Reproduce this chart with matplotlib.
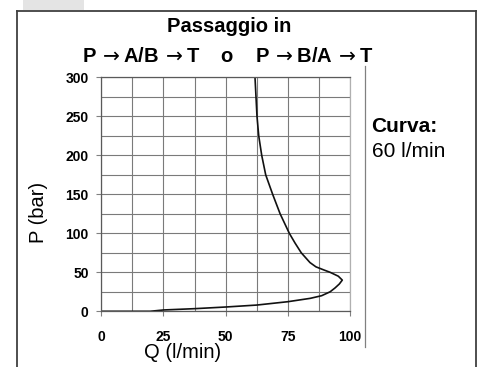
import matplotlib
matplotlib.use("Agg")
import matplotlib.pyplot as plt
from matplotlib.lines import Line2D
from matplotlib.patches import Rectangle
from matplotlib.ticker import MultipleLocator

plt.rcParams['font.family'] = ['Liberation Sans', 'DejaVu Sans']
plt.rcParams['mathtext.fontset'] = 'dejavusans'

# Data: curve (P in bar, Q in l/min)
pressure = [300, 275, 250, 225, 200, 175, 150, 125, 100, 87.5, 75, 62.5, 57, 53, 50,
            45, 40, 35, 30, 25, 20, 16.6, 12.3, 8, 5.5, 3.4, 1.7, 0, 0]
flow = [61.8, 62.2, 62.6, 63.3, 64.5, 66.1, 68.9, 71.9, 75.6, 77.9, 80.4, 83.9, 86.3, 89.5, 92.0,
        95.3, 96.9, 95.7, 94.0, 92.0, 88.6, 84.0, 75.0, 62.5, 50.0, 37.7, 25.0, 19.6, 0.0]

x_ticks = [0, 25, 50, 75, 100]
y_ticks = [0, 50, 100, 150, 200, 250, 300]
title_line1 = "Passaggio in"
title_line2 = (r"P$\,\rightarrow$A/B$\,\rightarrow$T    o    "
               r"P$\,\rightarrow$B/A$\,\rightarrow$T")
x_label = "Q (l/min)"
y_label = "P (bar)"
note_title = "Curva:"
note_value = "60 l/min"

W, H = 480, 367
fig = plt.figure(figsize=(W / 100, H / 100), dpi=100)

def fx(px):
    return px / W

def fy(py):
    return 1 - py / H

ax = fig.add_axes([fx(101.3), fy(311.3), fx(350) - fx(101.3), fy(77.3) - fy(311.3)])
ax.plot(flow, pressure, color='#111111', lw=1.2, solid_joinstyle='round')
ax.set_xlim(0, 100)
ax.set_ylim(0, 300)
ax.set_xticks(x_ticks)
ax.set_yticks(y_ticks)
ax.xaxis.set_minor_locator(MultipleLocator(12.5))
ax.yaxis.set_minor_locator(MultipleLocator(25))
ax.grid(True, which='both', color='#7a7a7a', lw=0.8)
ax.set_axisbelow(True)
ax.tick_params(which='major', length=3.6, width=0.8, color='#808080', labelsize=10)
ax.tick_params(axis='x', which='major', pad=10)
ax.tick_params(axis='y', which='major', pad=5.5)
ax.tick_params(which='minor', length=0)
for lab in ax.get_xticklabels() + ax.get_yticklabels():
    lab.set_fontweight('bold')
for name, sp in ax.spines.items():
    sp.set_color('#5a5a5a')
    sp.set_linewidth(0.9)
ax.spines['right'].set_color('#b0b0b0')

# Texts
fig.text(fx(229), fy(26.7), title_line1, ha='center', va='center', fontsize=14.5, fontweight='bold')
fig.text(fx(228), fy(56.5), title_line2, ha='center', va='center', fontsize=14.5, fontweight='bold')
fig.text(fx(38.5), fy(212.5), y_label, ha='center', va='center', rotation=90, fontsize=14.5)
fig.text(fx(182.5), fy(353), x_label, ha='center', va='center', fontsize=14.5)
fig.text(fx(371.5), fy(126.7), note_title, ha='left', va='center', fontsize=15, fontweight='bold')
fig.text(fx(371.5), fy(151.7), note_value, ha='left', va='center', fontsize=15)

# Frame and decorations
fig.patches.append(Rectangle((fx(23), fy(9.5)), fx(84) - fx(23), fy(0) - fy(9.5),
                             transform=fig.transFigure, color='#e4e4e4', lw=0))
frame_kw = dict(transform=fig.transFigure, color='#404040', lw=1.3)
fig.lines.append(Line2D([fx(16.5), fx(16.5)], [fy(367), fy(10.5)], **frame_kw))
fig.lines.append(Line2D([fx(16.5), fx(476)], [fy(10.5), fy(10.5)], **frame_kw))
fig.lines.append(Line2D([fx(476), fx(476)], [fy(10.5), fy(367)], **frame_kw))
fig.lines.append(Line2D([fx(364.5), fx(364.5)], [fy(66), fy(347)],
                        transform=fig.transFigure, color='#808080', lw=0.9))

fig.savefig("out.png", dpi=100)
